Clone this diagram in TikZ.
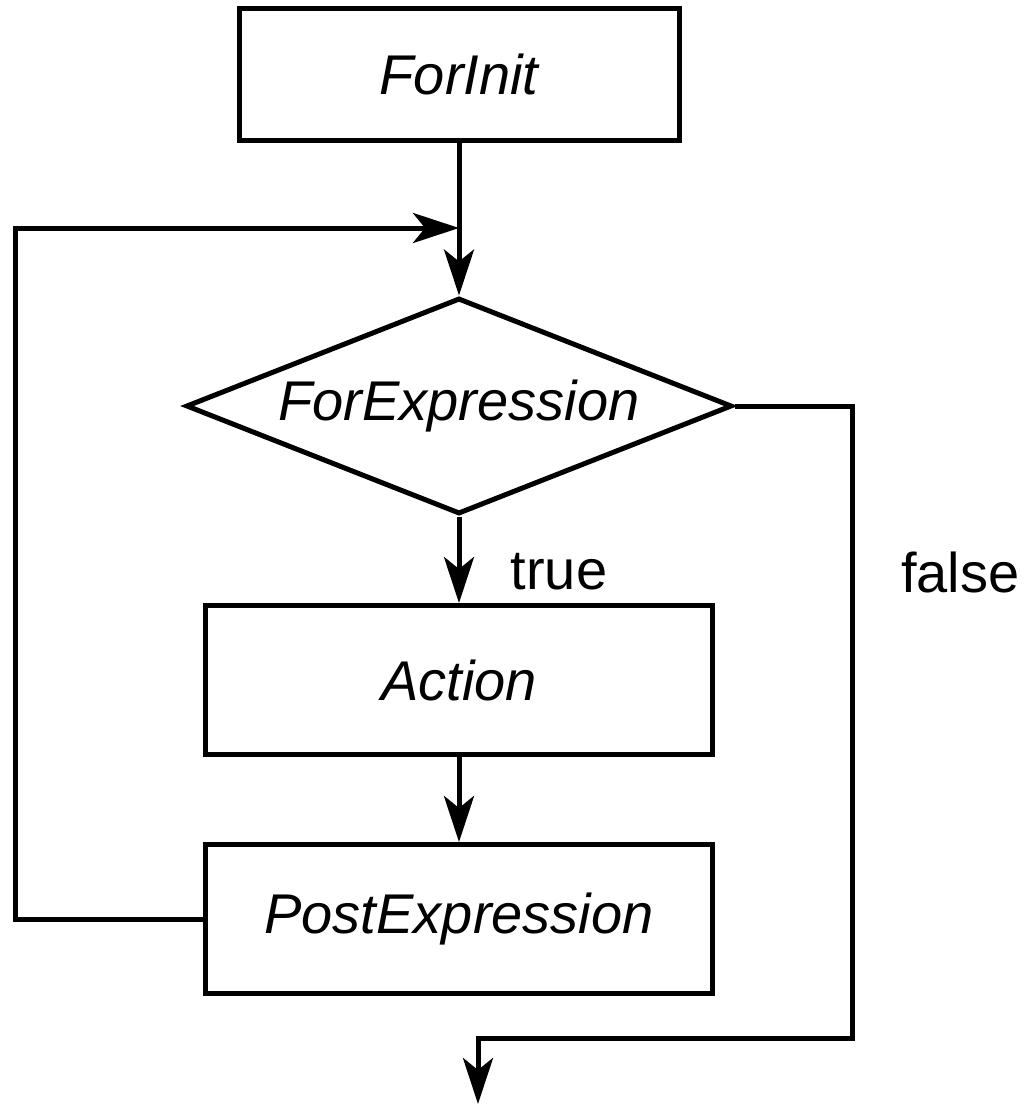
\documentclass[tikz,border=0pt]{standalone}
\usepackage{fontspec}
\setmainfont{Liberation Sans}
\usetikzlibrary{shapes.geometric,arrows.meta}

\begin{document}
\begin{tikzpicture}[x=0.5pt, y=-0.5pt, line width=2.5pt,
    every node/.style={font=\fontsize{28}{32}\selectfont},
    stepbox/.style={draw, rectangle, inner sep=0pt, font=\fontsize{28}{32}\selectfont\itshape},
    test/.style={draw, diamond, aspect=2.53, inner sep=0pt, minimum width=273pt, minimum height=108pt, font=\fontsize{28}{32}\selectfont\itshape},
    flow/.style={-{Stealth[length=23pt, width=15pt, inset=6pt]}}]
    \useasboundingbox (0,0) rectangle (1028,1104);
    \node[stepbox, minimum width=220pt, minimum height=66pt] (init) at (459,74) {ForInit};
    \node[test] (cond) at (459,406) {ForExpression};
    \node[stepbox, minimum width=253.5pt, minimum height=74.5pt] (act) at (459,680) {Action};
    \node[stepbox, minimum width=253.5pt, minimum height=74.5pt] (post) at (459,919) {PostExpression};
    \node (true) at (559,572) {true};
    \node[anchor=east, inner sep=0pt] (false) at (1022,572) {false};
    \coordinate (join) at (459,228);
    \coordinate (back) at (15,228);
    \coordinate (out) at (852,1038);
    \coordinate (down) at (478,1038);
    \coordinate (exit) at (478,1104);
    \draw[flow] (init) -- (cond);
    \draw[flow] (cond) -- (act);
    \draw[flow] (act) -- (post);
    \draw[flow] (post.west) -| (back) -- (join);
    \draw[flow] (cond.east) -| (out) -- (down) -- (exit);
\end{tikzpicture}
\end{document}
